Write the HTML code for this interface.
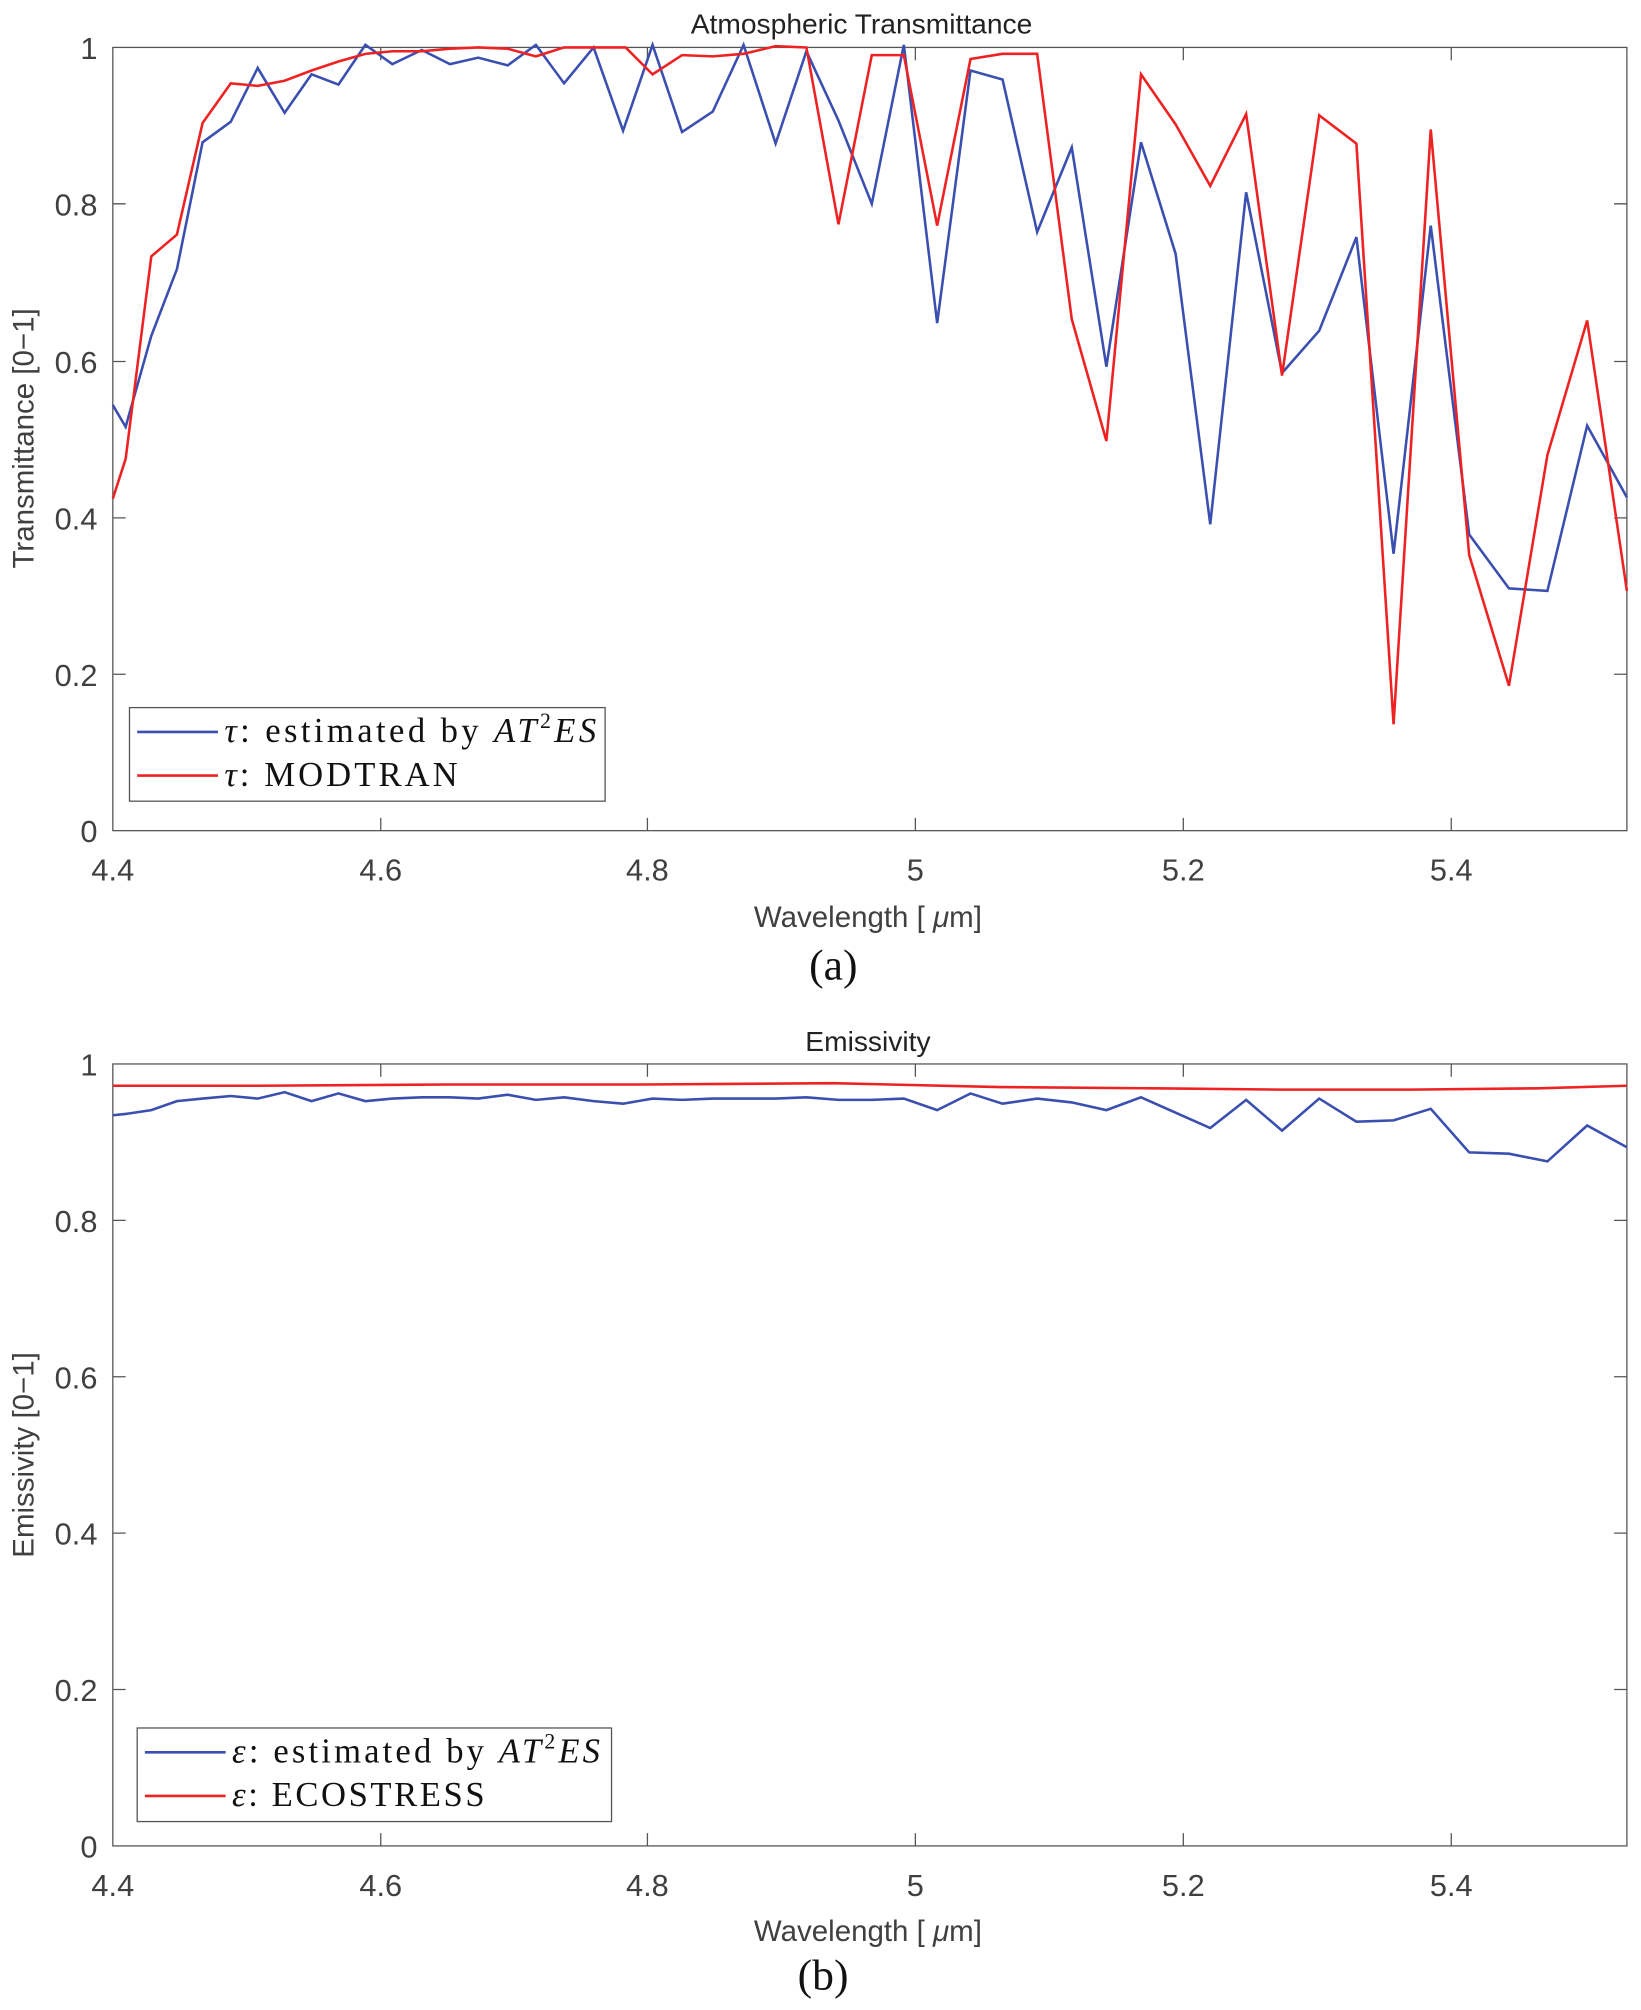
<!DOCTYPE html>
<html><head><meta charset="utf-8"><style>html,body{margin:0;padding:0;background:#fff}svg{display:block}</style></head>
<body>
<svg width="1641" height="2010" viewBox="0 0 1280 1568" preserveAspectRatio="none" xmlns="http://www.w3.org/2000/svg">
<rect width="1280" height="1568" fill="#fff"/>
<g font-family="Liberation Sans, sans-serif" fill="#404040" font-size="24">
<!-- Plot 1 -->
<text x="672" y="26" text-anchor="middle" font-size="22" fill="#222">Atmospheric Transmittance</text>
<g text-anchor="end">
<text x="76" y="46">1</text><text x="76" y="168">0.8</text><text x="76" y="291">0.6</text><text x="76" y="413">0.4</text><text x="76" y="535">0.2</text><text x="76" y="657">0</text>
</g>
<g text-anchor="middle">
<text x="88" y="687">4.4</text><text x="297" y="687">4.6</text><text x="505" y="687">4.8</text><text x="714" y="687">5</text><text x="923" y="687">5.2</text><text x="1132" y="687">5.4</text>
</g>
<text x="677" y="723" text-anchor="middle" font-size="23">Wavelength [ <tspan font-style="italic">μ</tspan>m]</text>
<text transform="translate(26,342) rotate(-90)" text-anchor="middle" font-size="23">Transmittance [0−1]</text>
<text x="650" y="764" text-anchor="middle" font-family="Liberation Serif, serif" font-size="34" fill="#111">(a)</text>
<g stroke="#555" stroke-width="1" fill="none">
<rect x="88" y="37" width="1181" height="611"/>
<path d="M88 526h10M88 404h10M88 282h10M88 159h10M1269 526h-10M1269 404h-10M1269 282h-10M1269 159h-10M297 648v-10M505 648v-10M714 648v-10M923 648v-10M1132 648v-10M297 37v10M505 37v10M714 37v10M923 37v10M1132 37v10"/>
</g>
<polyline fill="none" stroke="#3a4fb0" stroke-width="2" points="88,316 98,333 118,262 138,210 158,111 180,95 201,53 222,88 243,58 264,66 285,35 306,50 329,39 351,50 373,45 396,51 418,35 440,65 463,37 486,102 509,35 532,103 556,87 580,35 605,112 629,40 654,94 680,159 705,35 731,252 757,55 782,62 809,181 836,115 863,286 890,111 917,198 944,409 972,150 1000,291 1029,258 1058,185 1087,432 1116,176 1146,417 1177,459 1207,461 1238,332 1269,388"/>
<polyline fill="none" stroke="#ee2222" stroke-width="2" points="88,389 98,358 118,200 138,183 158,96 180,65 201,67 222,63 243,55 264,48 285,42 306,40 329,40 351,38 373,37 396,38 418,44 440,37 463,37 488,37 509,58 532,43 556,44 580,42 605,36 629,37 654,175 680,43 705,43 731,176 757,46 782,42 809,42 836,249 863,344 890,58 917,97 944,145 972,89 1000,293 1029,90 1058,112 1087,565 1116,101 1146,433 1177,535 1207,355 1238,250 1269,461"/>
<rect x="101" y="552" width="371" height="73" fill="#fff" stroke="#555" stroke-width="1"/>
<line x1="107" y1="571" x2="170" y2="571" stroke="#3a4fb0" stroke-width="2"/>
<line x1="107" y1="605" x2="170" y2="605" stroke="#ee2222" stroke-width="2"/>
<g font-family="Liberation Serif, serif" font-size="27" fill="#111" xml:space="preserve">
<text x="175" y="579" textLength="290" lengthAdjust="spacing"><tspan font-style="italic">τ</tspan>:  estimated by <tspan font-style="italic">AT</tspan><tspan font-size="17" dy="-11">2</tspan><tspan dy="11" font-style="italic">ES</tspan></text>
<text x="175" y="613" textLength="182" lengthAdjust="spacing"><tspan font-style="italic">τ</tspan>:  MODTRAN</text>
</g>
<!-- Plot 2 -->
<text x="677" y="820" text-anchor="middle" font-size="22" fill="#222">Emissivity</text>
<g text-anchor="end">
<text x="76" y="839">1</text><text x="76" y="961">0.8</text><text x="76" y="1083">0.6</text><text x="76" y="1205">0.4</text><text x="76" y="1327">0.2</text><text x="76" y="1449">0</text>
</g>
<g text-anchor="middle">
<text x="88" y="1479">4.4</text><text x="297" y="1479">4.6</text><text x="505" y="1479">4.8</text><text x="714" y="1479">5</text><text x="923" y="1479">5.2</text><text x="1132" y="1479">5.4</text>
</g>
<text x="677" y="1514" text-anchor="middle" font-size="23">Wavelength [ <tspan font-style="italic">μ</tspan>m]</text>
<text transform="translate(26,1135) rotate(-90)" text-anchor="middle" font-size="23">Emissivity [0−1]</text>
<text x="642" y="1552" text-anchor="middle" font-family="Liberation Serif, serif" font-size="34" fill="#111">(b)</text>
<g stroke="#555" stroke-width="1" fill="none">
<rect x="88" y="830" width="1181" height="610"/>
<path d="M88 1318h10M88 1196h10M88 1074h10M88 952h10M1269 1318h-10M1269 1196h-10M1269 1074h-10M1269 952h-10M297 1440v-10M505 1440v-10M714 1440v-10M923 1440v-10M1132 1440v-10M297 830v10M505 830v10M714 830v10M923 830v10M1132 830v10"/>
</g>
<polyline fill="none" stroke="#3a4fb0" stroke-width="2" points="88,870 98,869 118,866 138,859 158,857 180,855 201,857 222,852 243,859 264,853 285,859 306,857 329,856 351,856 373,857 396,854 418,858 440,856 463,859 486,861 509,857 532,858 556,857 580,857 605,857 629,856 654,858 680,858 705,857 731,866 757,853 782,861 809,857 836,860 863,866 890,856 917,868 944,880 972,858 1000,882 1029,857 1058,875 1087,874 1116,865 1146,899 1177,900 1207,906 1238,878 1269,895"/>
<polyline fill="none" stroke="#ee2222" stroke-width="2" points="88,847 200,847 350,846 500,846 650,845 780,848 900,849 1000,850 1100,850 1200,849 1269,847"/>
<rect x="107" y="1348" width="370" height="73" fill="#fff" stroke="#555" stroke-width="1"/>
<line x1="113" y1="1367" x2="176" y2="1367" stroke="#3a4fb0" stroke-width="2"/>
<line x1="113" y1="1401" x2="176" y2="1401" stroke="#ee2222" stroke-width="2"/>
<g font-family="Liberation Serif, serif" font-size="27" fill="#111" xml:space="preserve">
<text x="181" y="1375" textLength="287" lengthAdjust="spacing"><tspan font-style="italic">ε</tspan>:  estimated by <tspan font-style="italic">AT</tspan><tspan font-size="17" dy="-11">2</tspan><tspan dy="11" font-style="italic">ES</tspan></text>
<text x="181" y="1409" textLength="197" lengthAdjust="spacing"><tspan font-style="italic">ε</tspan>:  ECOSTRESS</text>
</g>
</g>
</svg>
</body></html>
